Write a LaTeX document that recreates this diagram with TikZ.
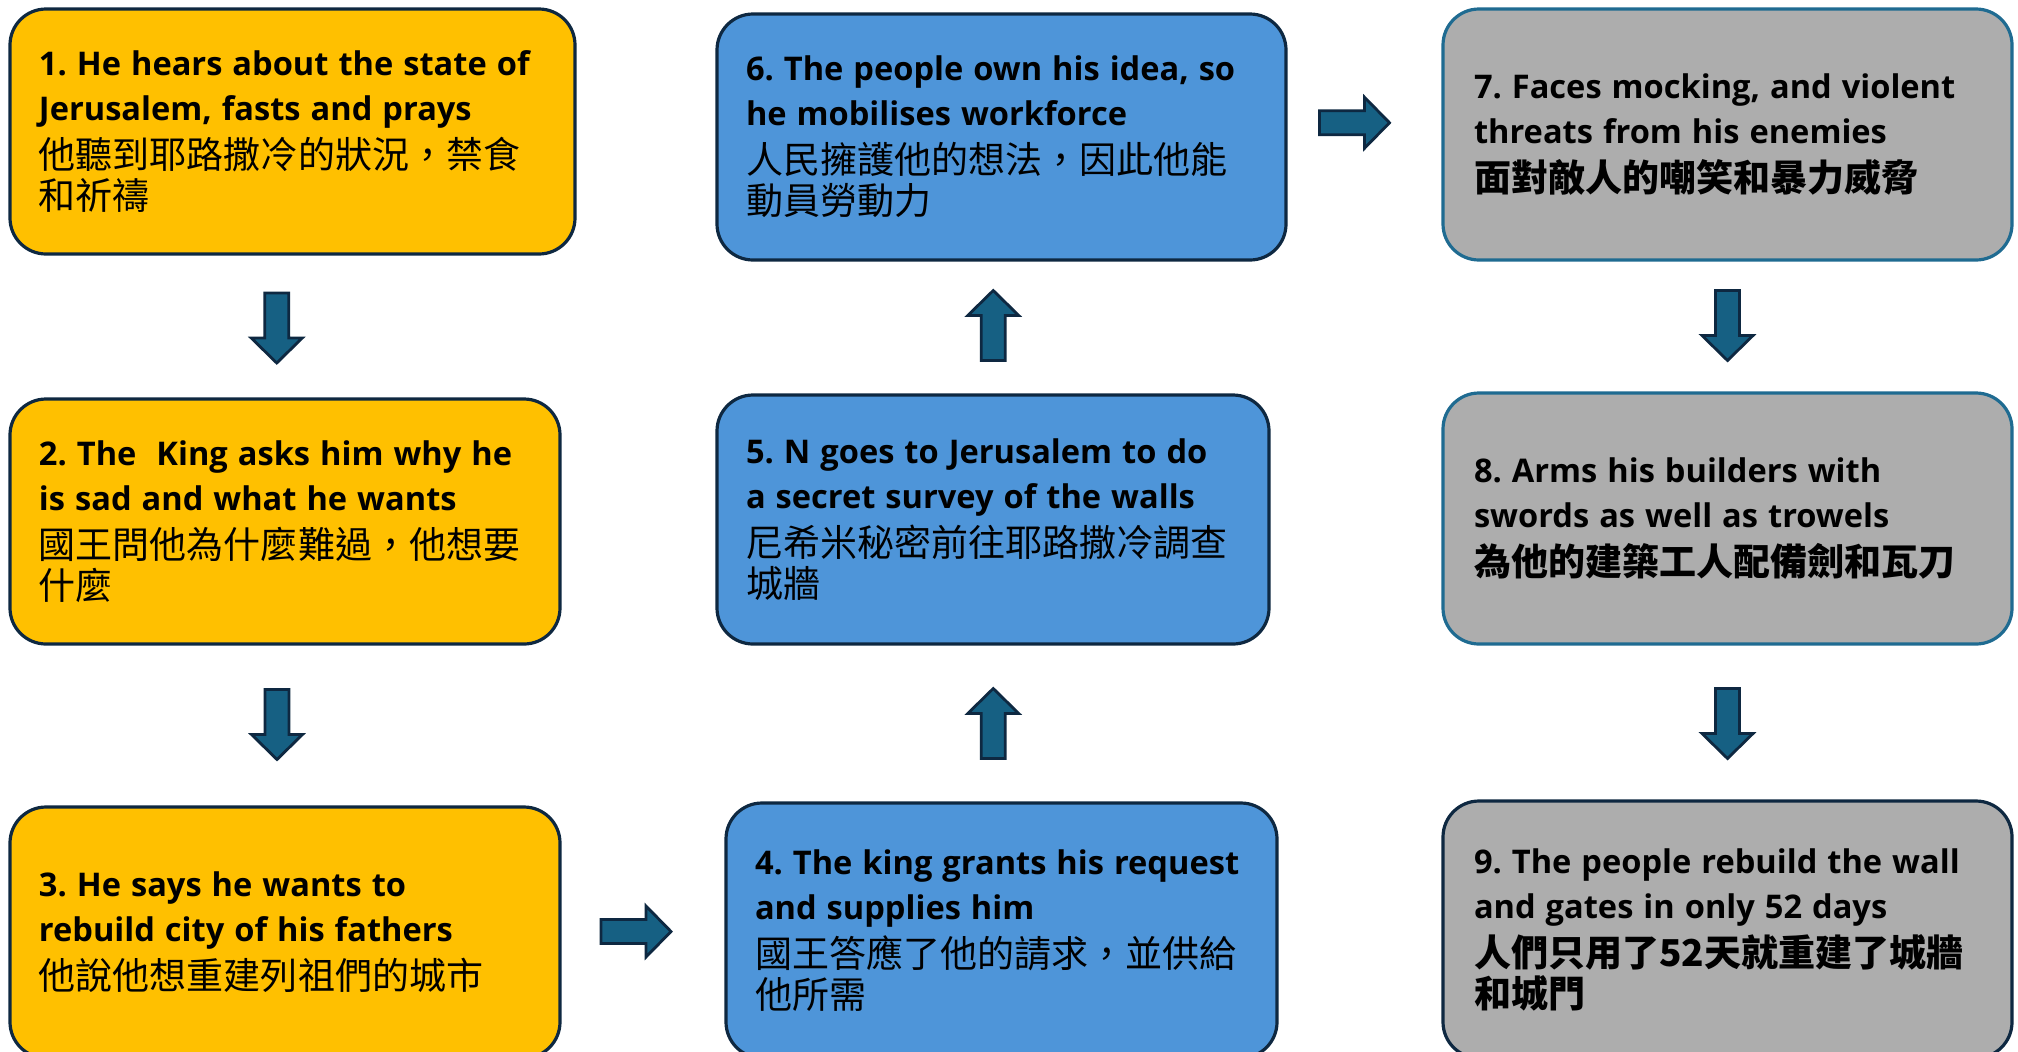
\documentclass[tikz,border=0pt]{standalone}
\usepackage{fontspec}
\newfontfamily\enf{Open Sans}
\newfontfamily\zhf{Noto Sans CJK TC}
\usetikzlibrary{calc}
\frenchspacing
\definecolor{boxyellow}{HTML}{FFC000}
\definecolor{boxblue}{HTML}{4E95D9}
\definecolor{boxgrey}{HTML}{ADADAD}
\definecolor{darkb}{HTML}{0E2841}
\definecolor{greyb}{HTML}{1F6B91}
\definecolor{arrfill}{HTML}{166083}
\newcommand\en[1]{\mbox{\enf\bfseries\fontsize{16.3}{20.5}\selectfont #1}}
\newcommand\zh[1]{\mbox{\zhf\fontsize{18.5}{20.5}\selectfont #1}}
\newcommand\zhb[1]{\mbox{\zhf\bfseries\fontsize{18.5}{20.5}\selectfont #1}}
\tikzset{
  box/.style={draw=darkb, line width=1.6pt, rounded corners=18pt, align=left,
    inner xsep=14.5pt, inner ysep=0pt, font=\fontsize{15}{20.5}\selectfont},
  blockarr/.style={draw=darkb, fill=arrfill, line width=1.4pt, line join=miter},
  adown/.pic={\draw[blockarr] (-12,-35) -- (12,-35) -- (12,10) -- (25.5,10) -- (0,35) -- (-25.5,10) -- (-12,10) -- cycle;},
  aup/.pic={\draw[blockarr] (-12,35) -- (12,35) -- (12,-10) -- (25.5,-10) -- (0,-35) -- (-25.5,-10) -- (-12,-10) -- cycle;},
  aright/.pic={\draw[blockarr] (-35,-12) -- (10,-12) -- (10,-25.5) -- (35,0) -- (10,25.5) -- (10,12) -- (-35,12) -- cycle;}
}
\begin{document}
\begin{tikzpicture}[x=0.5pt,y=-0.5pt]
\useasboundingbox[fill=white] (0,0) rectangle (2018,1051);
% column 1
\node[box, fill=boxyellow, minimum width=282.5pt, minimum height=122.5pt, text width=253.5pt] (b1) at (292.5,131.5)
 {\en{1. He hears about the state of}\\[2pt]\en{Jerusalem, fasts and prays}\\[3.5pt]\zh{他聽到耶路撒冷的狀況，禁食}\\\zh{和祈禱}};
\node[box, fill=boxyellow, minimum width=275pt, minimum height=122.5pt, text width=246pt] (b2) at (285,521.5)
 {\en{2. The\ \ King asks him why he}\\[2pt]\en{is sad and what he wants}\\[3.5pt]\zh{國王問他為什麼難過，他想要}\\\zh{什麼}};
\node[box, fill=boxyellow, minimum width=275pt, minimum height=125.5pt, text width=246pt] (b3) at (285,932.5)
 {\en{3. He says he wants to}\\[2pt]\en{rebuild city of his fathers}\\[3.5pt]\zh{他說他想重建列祖們的城市}};
% column 2
\node[box, fill=boxblue, minimum width=275.5pt, minimum height=127.5pt, text width=246.5pt] (b4) at (1001.5,930.5)
 {\en{4. The king grants his request}\\[2pt]\en{and supplies him}\\[3.5pt]\zh{國王答應了他的請求，並供給}\\\zh{他所需}};
\node[box, fill=boxblue, minimum width=276pt, minimum height=124.5pt, text width=247pt] (b5) at (993,519.5)
 {\en{5. N goes to Jerusalem to do}\\[2pt]\en{a secret survey of the walls}\\[3.5pt]\zh{尼希米秘密前往耶路撒冷調查}\\\zh{城牆}};
\node[box, fill=boxblue, minimum width=284.5pt, minimum height=123pt, text width=255.5pt] (b6) at (1001.5,137)
 {\en{6. The people own his idea, so}\\[2pt]\en{he mobilises workforce}\\[3.5pt]\zh{人民擁護他的想法，因此他能}\\\zh{動員勞動力}};
% column 3
\node[box, draw=greyb, fill=boxgrey, minimum width=284.5pt, minimum height=125.5pt, text width=253.5pt, inner xsep=15.5pt] (b7) at (1727.5,134.5)
 {\en{7. Faces mocking, and violent}\\[2pt]\en{threats from his enemies}\\[3.5pt]\zhb{面對敵人的嘲笑和暴力威脅}};
\node[box, draw=greyb, fill=boxgrey, minimum width=284.5pt, minimum height=125.5pt, text width=253.5pt, inner xsep=15.5pt] (b8) at (1727.5,518.5)
 {\en{8. Arms his builders with}\\[2pt]\en{swords as well as trowels}\\[3.5pt]\zhb{為他的建築工人配備劍和瓦刀}};
\node[box, fill=boxgrey, minimum width=284.5pt, minimum height=128.5pt, text width=253.5pt, inner xsep=15.5pt] (b9) at (1727.5,929.5)
 {\en{9. The people rebuild the wall}\\[2pt]\en{and gates in only 52 days}\\[3.5pt]\zhb{人們只用了52天就重建了城牆}\\\zhb{和城門}};
% block arrows between boxes
\pic at ($(b1.south)!0.5!(b2.north)+(-12,1.5)$) {adown};
\pic at ($(b2.south)!0.5!(b3.north)+(-8,-1)$) {adown};
\pic at ($(b3.east)!0.5!(b4.west)+(-7,0)$) {aright};
\pic at ($(b4.north)!0.5!(b5.south)+(-4,0)$) {aup};
\pic at ($(b5.north)!0.5!(b6.south)+(-4,-2)$) {aup};
\pic at ($(b6.east)!0.5!(b7.west)+(-10,-13)$) {aright};
\pic at ($(b7.south)!0.5!(b8.north)+(0,-1)$) {adown};
\pic at ($(b8.south)!0.5!(b9.north)+(0,1)$) {adown};
\end{tikzpicture}
\end{document}
